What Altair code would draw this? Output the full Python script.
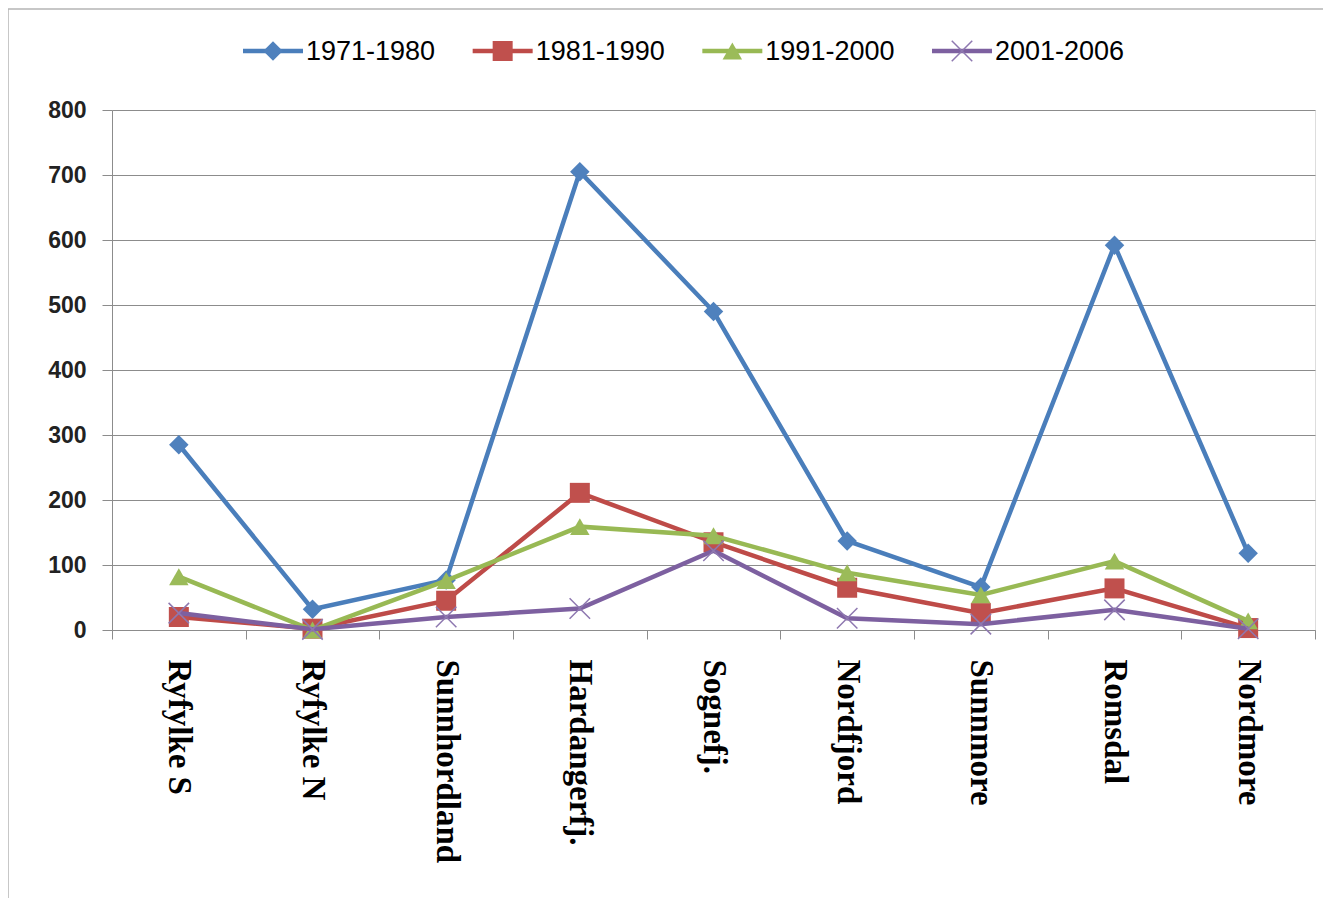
import altair as alt
import pandas as pd

categories = ["Ryfylke S", "Ryfylke N", "Sunnhordland", "Hardangerfj.", "Sognefj.",
              "Nordfjord", "Sunnmore", "Romsdal", "Nordmore"]
series_names = ["1971-1980", "1981-1990", "1991-2000", "2001-2006"]
v1971 = [285, 32, 77, 705, 490, 137, 66, 592, 118]
v1981 = [20, 2, 45, 211, 135, 65, 26, 64, 3]
v1991 = [82, 0, 76, 159, 145, 88, 54, 106, 14]
v2001 = [26, 1, 20, 33, 122, 18, 9, 31, 2]
y_ticks = [0, 100, 200, 300, 400, 500, 600, 700, 800]

values = [v1971, v1981, v1991, v2001]
line_colors = ["#4A7EBB", "#BE4B48", "#98B954", "#7D60A0"]
marker_colors = ["#4F81BD", "#C0504D", "#9BBB59", "#8E78B0"]
shapes = ["diamond", "square", "triangle-up", "M-1,-1L1,1M-1,1L1,-1"]
sizes = [380, 400, 380, 420]

W, H = 1203, 520

rows = []
for s, vals in zip(series_names, values):
    for c, v in zip(categories, vals):
        rows.append({"category": c, "series": s, "value": v})
df = pd.DataFrame(rows)

x_enc = alt.X("category:N", sort=categories,
              scale=alt.Scale(type="band", domain=categories, paddingInner=0, paddingOuter=0),
              axis=alt.Axis(title=None, labelAngle=90, labelAlign="left", labelBaseline="middle",
                            labelFont="Liberation Serif", labelFontWeight="bold", labelFontSize=33,
                            labelColor="#000000", labelLimit=500, tickBand="extent", tickSize=9,
                            tickColor="#8c8c8c", domainColor="#8c8c8c", grid=False,
                            labelPadding=20))
y_enc = alt.Y("value:Q", scale=alt.Scale(domain=[0, 800], nice=False),
              axis=alt.Axis(title=None, values=y_ticks, grid=True, gridColor="#8c8c8c",
                            domainColor="#8c8c8c", tickColor="#8c8c8c", tickSize=10,
                            labelFont="Liberation Sans", labelFontWeight="bold", labelFontSize=23,
                            labelColor="#222222", labelPadding=16))

plot_layers = []
for i, s in enumerate(series_names):
    sub = df[df.series == s]
    line = alt.Chart(sub).mark_line(color=line_colors[i], strokeWidth=4.5).encode(x=x_enc, y=y_enc)
    if i == 3:
        pts = alt.Chart(sub).mark_point(shape=shapes[i], filled=False, size=sizes[i],
                                        stroke=marker_colors[i], strokeWidth=1.5, opacity=1).encode(
            x=x_enc, y=y_enc)
    else:
        pts = alt.Chart(sub).mark_point(shape=shapes[i], filled=True, size=sizes[i],
                                        fill=marker_colors[i], strokeWidth=0, opacity=1).encode(
            x=x_enc, y=y_enc)
    plot_layers += [line, pts]

# legend
leg_df = pd.DataFrame({"series": series_names})
leg_x = alt.X("series:N", sort=series_names,
              scale=alt.Scale(type="point", domain=series_names, range=[161, 850], padding=0),
              axis=None)
leg_y = alt.value(-59)
legend_layers = []
for i, s in enumerate(series_names):
    sub = leg_df[leg_df.series == s]
    rule = alt.Chart(sub).mark_rule(color=line_colors[i], strokeWidth=4.5,
                                    xOffset=-30, x2Offset=30).encode(
        x=leg_x, x2=alt.X2("series"), y=leg_y)
    if i == 3:
        pt = alt.Chart(sub).mark_point(shape=shapes[i], filled=False, size=sizes[i],
                                       stroke=marker_colors[i], strokeWidth=1.5, opacity=1).encode(
            x=leg_x, y=leg_y)
    else:
        pt = alt.Chart(sub).mark_point(shape=shapes[i], filled=True, size=sizes[i],
                                       fill=marker_colors[i], strokeWidth=0, opacity=1).encode(
            x=leg_x, y=leg_y)
    legend_layers += [rule, pt]

legend_text = alt.Chart(leg_df).mark_text(align="left", baseline="middle", dx=33, dy=1,
                                          font="Liberation Sans", fontSize=27,
                                          color="#000000").encode(
    x=leg_x, y=leg_y, text="series:N")

frame = alt.Chart(pd.DataFrame({"a": [0]})).mark_rect(
    fillOpacity=0, stroke="#b5b5b5", strokeWidth=1.5).encode(
    x=alt.value(-104), x2=alt.value(1240), y=alt.value(-101), y2=alt.value(840))

chart = alt.layer(
    alt.layer(*plot_layers),
    alt.layer(frame, *legend_layers, legend_text),
).resolve_scale(x="independent").properties(
    width=W, height=H,
    autosize=alt.AutoSizeParams(type="none"),
    padding={"left": 104, "top": 102, "right": 8, "bottom": 268},
).configure_view(stroke=None).configure(background="white")

chart.save("out.html", embed_options={"renderer": "svg", "actions": False})
